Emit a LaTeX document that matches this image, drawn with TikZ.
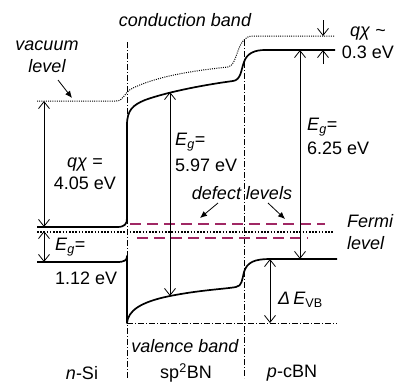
\documentclass[tikz,border=0pt]{standalone}
\usepackage{fontspec}
\setmainfont{Liberation Sans}
\usetikzlibrary{arrows.meta,calc}
\definecolor{defectcol}{RGB}{160,40,100}

\begin{document}
\begin{tikzpicture}[x=1pt,y=-1pt,
    lbl/.style={inner sep=0pt,font=\fontsize{18}{22}\selectfont},
    lbli/.style={inner sep=0pt,font=\fontsize{18}{22}\selectfont\itshape},
    band/.style={line width=1.7pt,line join=round},
    vac/.style={line width=1pt,dash pattern=on 1pt off 1.2pt},
    fermi/.style={line width=1.5pt,dash pattern=on 1.5pt off 1.7pt},
    defect/.style={defectcol,line width=1.3pt,dash pattern=on 11pt off 6pt},
    iface/.style={line width=0.6pt,dash pattern=on 6pt off 2pt on 1pt off 2pt},
    gap/.style={line width=0.8pt,{Straight Barb[length=7pt,width=11pt]}-{Straight Barb[length=7pt,width=11pt]}},
    gapend/.style={line width=0.8pt,-{Straight Barb[length=7pt,width=11pt]}},
    pointer/.style={line width=0.8pt,-{Latex[length=7pt,width=6pt]}}]
\useasboundingbox (0,0) rectangle (399,383);

\draw[iface] (127,42) -- (127,378);
\draw[iface] (244,40) -- (244,378);
\draw[iface] (127,323) -- (337,323);

\draw[vac] (37,101) -- (116,101) .. controls (124,101) and (124,92) .. (133,88)
    .. controls (160,75) and (200,70) .. (228,67)
    .. controls (238,66) and (236,37) .. (252,36) -- (335,36);
\draw[band] (37,227) -- (117,227) .. controls (125,227) and (127,224) .. (127,218)
    -- (127,125) .. controls (127,110) and (133,105) .. (145,100)
    .. controls (170,91) and (210,84) .. (233,81)
    .. controls (241,80) and (241,70) .. (244,62)
    .. controls (247,53) and (255,50) .. (265,50) -- (335,50);
\draw[band] (37,262) -- (117,262) .. controls (125,262) and (127,260) .. (127,256)
    -- (127,323) .. controls (128,311) and (140,302) .. (170,296)
    .. controls (200,290) and (225,289) .. (236,287)
    .. controls (242,286) and (242,280) .. (244,272)
    .. controls (247,262) and (255,259) .. (270,259) -- (337,259);
\draw[fermi] (37,232) -- (333,232);
\draw[defect] (130,224) -- (325,224);
\draw[defect] (137,238) -- (308,238);

\coordinate (vacSi) at (44,101);
\coordinate (cbSi) at (44,227);
\coordinate (efSi) at (44,231);
\coordinate (vbSi) at (44,262);
\coordinate (cbBN) at (170,92);
\coordinate (vbBN) at (170,296);
\coordinate (cbCBN) at (300,50);
\coordinate (vbCBN) at (300,259);
\coordinate (vbTop) at (270,259);
\coordinate (vbRef) at (270,323);
\coordinate (vacTop) at (323,20);
\coordinate (vacCBN) at (323,36);
\coordinate (cbBot) at (323,64);
\coordinate (cbEdge) at (323,50);

\draw[gap] (vacSi) -- (cbSi);
\draw[gap] (efSi) -- (vbSi);
\draw[gap] (cbBN) -- (vbBN);
\draw[gap] (cbCBN) -- (vbCBN);
\draw[gap] (vbTop) -- (vbRef);
\draw[gapend] (vacTop) -- (vacCBN);
\draw[gapend] (cbBot) -- (cbEdge);

\node[lbli] (cond) at (185,20) {conduction band};
\node[lbli,align=center] (vacuum) at (47,57) {vacuum\\level};
\coordinate (vacTip) at (72,98);
\draw[pointer] (58,80) -- (vacTip);
\node[lbl,align=center] (chiSi) at (85,174) {\textit{qχ} =\\4.05 eV};
\node[lbl,anchor=west] (egSi) at (55,247) {\textit{E}\textsubscript{\textit{g}}=};
\node[lbl,anchor=west] (egSiVal) at (55,278) {1.12 eV};
\node[lbl,anchor=west] (egBN) at (175,142) {\textit{E}\textsubscript{\textit{g}}=};
\node[lbl,anchor=west] (egBNVal) at (175,165) {5.97 eV};
\node[lbl,anchor=west] (egCBN) at (307,127) {\textit{E}\textsubscript{\textit{g}}=};
\node[lbl,anchor=west] (egCBNVal) at (307,148) {6.25 eV};
\node[lbl,align=center] (chiCBN) at (368,43) {\textit{qχ} \textasciitilde\\0.3 eV};
\node[lbli] (defect) at (242,193) {defect levels};
\coordinate (defL) at (200,218);
\coordinate (defR) at (285,219);
\draw[pointer] (218,203) -- (defL);
\draw[pointer] (268,203) -- (defR);
\node[lbli,align=left,anchor=west] (fermi) at (347,232) {Fermi\\level};
\node[lbl,anchor=west] (dEvb) at (278,300) {\textit{Δ\,E}\textsubscript{VB}};
\node[lbli] (valence) at (185,346) {valence band};
\node[lbl] (nSi) at (82,373) {\textit{n}-Si};
\node[lbl] (spBN) at (186,373) {sp\textsuperscript{2}BN};
\node[lbl] (pCBN) at (292,373) {\textit{p}-cBN};
\end{tikzpicture}
\end{document}
